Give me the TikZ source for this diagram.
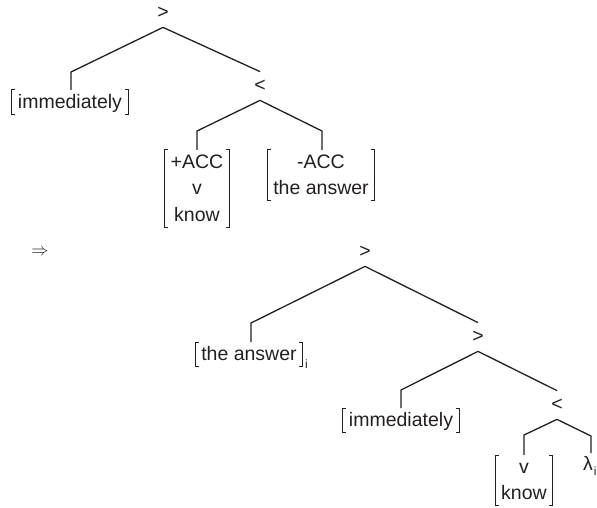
\documentclass[tikz,border=0pt]{standalone}
\usepackage{fontspec}
\setmainfont{Liberation Sans}
\newcommand\st{\rule[-5pt]{0pt}{22pt}}
\newcommand\bracketize[1]{\draw[bkline] ([xshift=3.5pt]#1.north west) -| (#1.south west) -- ++(3.5,0) ([xshift=-3.5pt]#1.north east) -| (#1.south east) -- ++(-3.5,0);}
\definecolor{ink}{RGB}{35,31,32}
\begin{document}
\begin{tikzpicture}[x=1pt,y=-1pt,
  every node/.style={font=\fontsize{19.5}{26.5}\selectfont, text=ink},
  tree/.style={draw=ink, line width=1.3pt, line join=miter},
  bk/.style={inner xsep=6pt, inner ysep=1pt, align=center, anchor=north},
  bkline/.style={draw=ink, line width=1pt},
  lbl/.style={inner xsep=0pt, inner ysep=8.5pt},
  sub/.style={font=\fontsize{12}{14}\selectfont, inner sep=0pt, anchor=base west}
]
\useasboundingbox (0,0) rectangle (597,508);

% ---------- upper tree ----------
\node[lbl] (gt1) at (163,13) {>};
\node[lbl] (lt1) at (260,86) {<};
\node[bk] (imm1) at (70,90) {\st immediately};
\node[bk] (acc1) at (197,150) {\st +ACC\\\st v\\\st know};
\node[bk] (acc2) at (321,150) {\st -ACC\\\st the answer};
\bracketize{imm1}
\bracketize{acc1}
\bracketize{acc2}

\coordinate (c1) at (71,72);
\coordinate (c2) at (197,131);
\coordinate (c3) at (322,131);
\draw[tree] (gt1.south) -- (c1) -- (c1 |- imm1.north);
\draw[tree] (gt1.south) -- (lt1.north);
\draw[tree] (lt1.south) -- (c2) -- (c2 |- acc1.north);
\draw[tree] (lt1.south) -- (c3) -- (c3 |- acc2.north);

% ---------- arrow ----------
\node[font=\fontsize{18}{20}\selectfont] (arr) at (40,252) {$\Rightarrow$};

% ---------- lower tree ----------
\node[lbl] (gt2) at (365,252) {>};
\node[lbl] (gt3) at (478,337) {>};
\node[lbl] (lt2) at (557,405) {<};
\node[bk] (ans) at (249,342) {\st the answer};
\node[sub] (ansi) at ([xshift=2pt,yshift=-8pt]ans.base east) {i};
\node[bk] (imm2) at (401,408) {\st immediately};
\node[bk] (vk) at (524,455) {\st v\\\st know};
\node[inner sep=0pt, anchor=north] (lam) at (588,453) {\st λ};
\node[sub] (lami) at ([xshift=0.5pt,yshift=-5pt]lam.base east) {i};
\bracketize{ans}
\bracketize{imm2}
\bracketize{vk}

\coordinate (c4) at (251,323);
\coordinate (c5) at (401,390);
\coordinate (c6) at (524,435);
\coordinate (c7) at (591,436);
\draw[tree] (gt2.south) -- (c4) -- (c4 |- ans.north);
\draw[tree] (gt2.south) -- (gt3.north);
\draw[tree] (gt3.south) -- (c5) -- (c5 |- imm2.north);
\draw[tree] (gt3.south) -- (lt2.north);
\draw[tree] (lt2.south) -- (c6) -- (c6 |- vk.north);
\draw[tree] (lt2.south) -- (c7) -- (c7 |- lam.north);
\end{tikzpicture}
\end{document}
